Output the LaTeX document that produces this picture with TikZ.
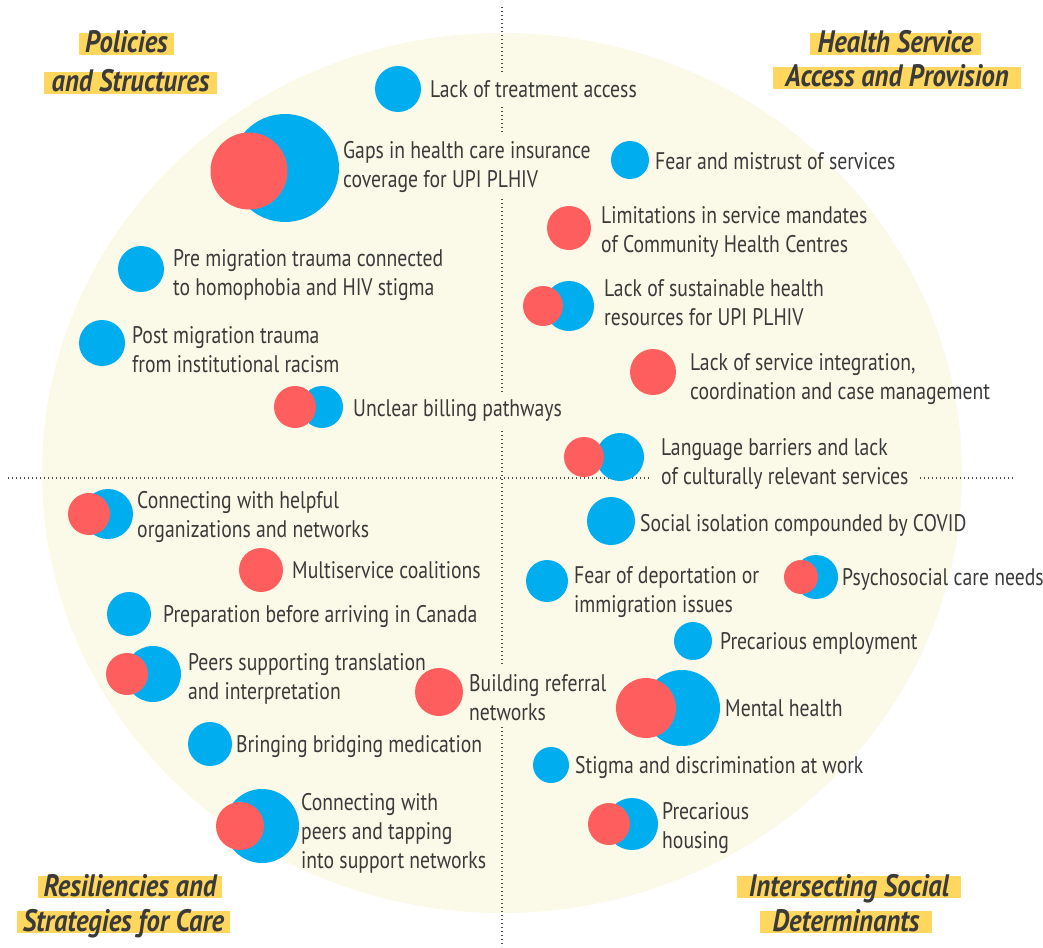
\documentclass[tikz,border=0pt]{standalone}
\usepackage{fontspec}
\setmainfont{PT Sans}[FakeStretch=0.82]
\newfontfamily\headfont{PT Sans}[FakeStretch=0.86]
\definecolor{cblue}{HTML}{00AEEF}
\definecolor{cred}{HTML}{FF5E5E}
\definecolor{ccream}{HTML}{FBF9E8}
\definecolor{cyel}{HTML}{FFD75E}
\definecolor{ctext}{HTML}{3A3A3A}
\definecolor{cline}{HTML}{4A4A4A}
\tikzset{
  bbub/.style={circle, fill=cblue, inner sep=0pt, minimum size=#1},
  rbub/.style={circle, fill=cred, inner sep=0pt, minimum size=#1},
  % anchored on the baseline of the last line of the label
  lbl/.style={anchor=base west, inner sep=0pt, align=left, text=ctext,
    font=\fontsize{24}{29}\selectfont},
  mask/.style={fill=ccream, inner ysep=7pt},
  ttl/.style={anchor=base, fill=cyel, text=ctext, inner xsep=0pt, inner ysep=0pt,
    text height=20pt, text depth=2pt,
    font=\headfont\bfseries\itshape\fontsize{31}{35}\selectfont},
  axis/.style={draw=cline, line width=1.5pt, dash pattern=on 1.4pt off 2.6pt}
}
\begin{document}
\begin{tikzpicture}[x=1pt, y=-1pt]
\useasboundingbox (0,0) rectangle (1043,947);

% backdrop and quadrant axes
\fill[ccream] (502,473) ellipse [x radius=460, y radius=440];
\coordinate (vtop) at (502,7);
\coordinate (vbot) at (502,947);
\coordinate (hleft) at (8,478);
\coordinate (hright) at (1015,478);
\draw[axis] (vtop) -- (vbot);
\draw[axis] (hleft) -- (hright);

% ---- Policies and Structures ----
\node[bbub=46] (c1) at (398,89) {};
\node[bbub=108] (c2b) at (285,168) {};
\node[rbub=77] (c2r) at (249,171) {};
\node[bbub=46] (c3) at (141,269) {};
\node[bbub=46] (c4) at (102,343) {};
\node[bbub=42] (c5b) at (322,407) {};
\node[rbub=42] (c5r) at (295,407) {};

\node[lbl, mask] (t1) at (430,98) {Lack of treatment access};
\node[lbl, mask] (t2) at (343,187) {Gaps in health care insurance\\coverage for UPI PLHIV};
\node[lbl] (t3) at (173,295) {Pre migration trauma connected\\to homophobia and HIV stigma};
\node[lbl] (t4) at (132,372) {Post migration trauma\\from institutional racism};
\node[lbl, mask] (t5) at (353,416) {Unclear billing pathways};

% ---- Health Service Access and Provision ----
\node[bbub=38] (c6) at (630,160) {};
\node[rbub=44] (c7) at (569,228) {};
\node[bbub=50] (c8b) at (569,306) {};
\node[rbub=40] (c8r) at (543,306) {};
\node[rbub=46] (c9) at (653,372) {};
\node[bbub=48] (c10b) at (620,457) {};
\node[rbub=40] (c10r) at (584,457) {};

\node[lbl] (t6) at (655,169) {Fear and mistrust of services};
\node[lbl] (t7) at (601,252) {Limitations in service mandates\\of Community Health Centres};
\node[lbl] (t8) at (604,325) {Lack of sustainable health\\resources for UPI PLHIV};
\node[lbl] (t9) at (690,399) {Lack of service integration,\\coordination and case management};
\node[lbl, mask, inner xsep=9pt] (t10) at (652,484) {Language barriers and lack\\of culturally relevant services};

% ---- Resiliencies and Strategies for Care ----
\node[bbub=50] (c11b) at (108,514) {};
\node[rbub=42] (c11r) at (89,514) {};
\node[rbub=44] (c12) at (261,570) {};
\node[bbub=44] (c13) at (129,614) {};
\node[bbub=56] (c14b) at (153,674) {};
\node[rbub=42] (c14r) at (127,674) {};
\node[rbub=48] (c15) at (439,692) {};
\node[bbub=44] (c16) at (210,744) {};
\node[bbub=74] (c17b) at (262,826) {};
\node[rbub=48] (c17r) at (240,826) {};

\node[lbl] (t11) at (137,537) {Connecting with helpful\\organizations and networks};
\node[lbl] (t12) at (292,578) {Multiservice coalitions};
\node[lbl] (t13) at (163,622) {Preparation before arriving in Canada};
\node[lbl] (t14) at (188,699) {Peers supporting translation\\and interpretation};
\node[lbl, mask] (t15) at (469,720) {Building referral\\networks};
\node[lbl] (t16) at (236,752) {Bringing bridging medication};
\node[lbl] (t17) at (301,868) {Connecting with\\peers and tapping\\into support networks};

% ---- Intersecting Social Determinants ----
\node[bbub=48] (c18) at (611,521) {};
\node[bbub=42] (c19) at (547,581) {};
\node[bbub=44] (c20b) at (816,577) {};
\node[rbub=34] (c20r) at (801,577) {};
\node[bbub=38] (c21) at (693,641) {};
\node[bbub=76] (c22b) at (682,708) {};
\node[rbub=60] (c22r) at (646,708) {};
\node[bbub=36] (c23) at (551,765) {};
\node[bbub=52] (c24b) at (632,824) {};
\node[rbub=42] (c24r) at (609,824) {};

\node[lbl] (t18) at (640,531) {Social isolation compounded by COVID};
\node[lbl] (t19) at (574,612) {Fear of deportation or\\immigration issues};
\node[lbl] (t20) at (842,585) {Psychosocial care needs};
\node[lbl] (t21) at (720,649) {Precarious employment};
\node[lbl] (t22) at (725,716) {Mental health};
\node[lbl] (t23) at (575,773) {Stigma and discrimination at work};
\node[lbl] (t24) at (662,848) {Precarious\\housing};

% ---- quadrant headings ----
\node[ttl, minimum width=95] (h1a) at (126.5,53) {Policies};
\node[ttl, minimum width=173] (h1b) at (130.5,92) {and Structures};
\node[ttl, minimum width=171] (h2a) at (895.5,53) {Health Service};
\node[ttl, minimum width=248] (h2b) at (897,87) {Access and Provision};
\node[ttl, minimum width=184] (h3a) at (130,896) {Resiliencies and};
\node[ttl, minimum width=213] (h3b) at (123.5,931) {Strategies for Care};
\node[ttl, minimum width=224] (h4a) at (849,896) {Intersecting Social};
\node[ttl, minimum width=172] (h4b) at (846,931) {Determinants};
\end{tikzpicture}
\end{document}
